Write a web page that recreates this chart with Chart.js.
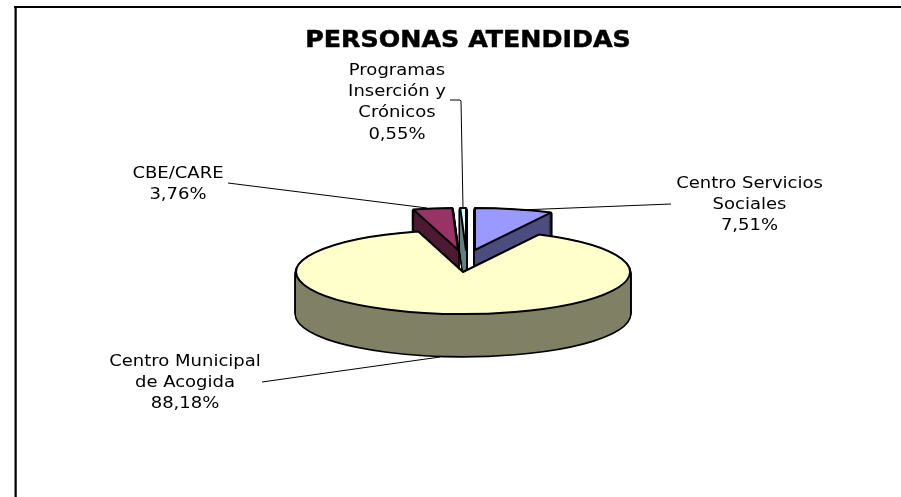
<!DOCTYPE html>
<html>
<head>
<meta charset="utf-8">
<title>Personas atendidas</title>
<script src="https://cdn.jsdelivr.net/npm/chart.js@4/dist/chart.umd.min.js"></script>
<style>
  html, body { margin: 0; padding: 0; background: #fff; overflow: hidden; }
  #wrap { position: relative; width: 901px; height: 497px; }
</style>
</head>
<body>
<div id="wrap"><canvas id="pieChart" width="901" height="497"></canvas></div>
<script>
const categories = [
  ["Centro Servicios", "Sociales"],
  ["Centro Municipal", "de Acogida"],
  ["CBE/CARE"],
  ["Programas", "Inserción y", "Crónicos"]
];
const percentValues = [7.51, 88.18, 3.76, 0.55];
const topColors = ["#9999FF", "#FFFFCC", "#993366", "#CCFFFF"];
const wallColors = ["#4D4D80", "#808066", "#4D1A33", "#668080"];

const chartTitle = "PERSONAS ATENDIDAS";
const fontName = "'DejaVu Sans', Verdana, sans-serif";
// the picture's text is wider than the font, so stretch it a bit
const textStretch = 1.125;

// 3D look: squash the flat pie and push some slices away from the middle
const pieLook = {
  squash: 42 / 167,
  depth: 42,
  shift: [[12, -22], [0, 0], [-5, -22], [3, -22]],
  drawOrder: [0, 2, 3, 1]
};

// where each label goes: centre x, first baseline y, then the leader line
const labelLook = [
  { x: 749.5, y: 188, line: [[671, 204], [520, 210]] },
  { x: 185, y: 366, line: [[262, 382], [440, 357]] },
  { x: 178, y: 178, line: [[228, 183], [427, 208]] },
  { x: 397, y: 75, line: [[450, 100], [460, 100], [461, 101], [463, 208]] }
];

function stretchedText(ctx, text, x, y, stretch, heavy) {
  ctx.save();
  ctx.translate(x, y);
  ctx.scale(stretch, 1);
  ctx.fillText(text, 0, 0);
  if (heavy) {
    ctx.lineWidth = 0.5;
    ctx.strokeText(text, 0, 0);
  }
  ctx.restore();
}

function slicePath(ctx, arc, dx, dy) {
  const p = arc.getProps(["x", "y", "startAngle", "endAngle", "outerRadius"], true);
  ctx.save();
  ctx.translate(p.x + dx, p.y + dy);
  ctx.scale(1, pieLook.squash);
  ctx.beginPath();
  ctx.moveTo(0, 0);
  ctx.arc(0, 0, p.outerRadius, p.startAngle, p.endAngle);
  ctx.closePath();
  ctx.restore();
}

function drawSlice(ctx, arc, i) {
  const dx = pieLook.shift[i][0];
  const dy = pieLook.shift[i][1];
  ctx.lineJoin = "round";
  ctx.strokeStyle = "#000";
  ctx.lineWidth = 3.2;
  for (let d = pieLook.depth; d > 0; d -= 1) {
    slicePath(ctx, arc, dx, dy + d);
    ctx.stroke();
  }
  ctx.fillStyle = wallColors[i];
  for (let d = pieLook.depth; d > 0; d -= 1) {
    slicePath(ctx, arc, dx, dy + d);
    ctx.fill();
  }
  slicePath(ctx, arc, dx, dy);
  ctx.fillStyle = topColors[i];
  ctx.fill();
  ctx.lineWidth = 2;
  ctx.stroke();
}

const pie3d = {
  id: "pie3d",
  beforeDraw(chart) {
    const ctx = chart.ctx;
    ctx.save();
    ctx.fillStyle = "#808080";
    ctx.fillRect(14, 8, 3, 489);
    ctx.fillStyle = "#000";
    ctx.fillRect(14, 6, 887, 2);
    ctx.fillRect(15, 6, 1.5, 491);
    ctx.restore();
  },
  beforeDatasetDraw(chart) {
    const ctx = chart.ctx;
    const arcs = chart.getDatasetMeta(0).data;
    ctx.save();
    pieLook.drawOrder.forEach(i => drawSlice(ctx, arcs[i], i));
    ctx.restore();
    return false;
  },
  afterDraw(chart) {
    const ctx = chart.ctx;
    ctx.save();
    ctx.strokeStyle = "#000";
    ctx.lineWidth = 1;
    labelLook.forEach(l => {
      ctx.beginPath();
      l.line.forEach((pt, n) => n ? ctx.lineTo(pt[0], pt[1]) : ctx.moveTo(pt[0], pt[1]));
      ctx.stroke();
    });
    ctx.fillStyle = "#000";
    ctx.font = "16px " + fontName;
    ctx.textAlign = "center";
    ctx.textBaseline = "alphabetic";
    categories.forEach((lines, i) => {
      const text = lines.concat(percentValues[i].toFixed(2).replace(".", ",") + "%");
      text.forEach((t, n) => stretchedText(ctx, t, labelLook[i].x, labelLook[i].y + n * 21.2, textStretch));
    });
    ctx.font = "bold 22.5px " + fontName;
    stretchedText(ctx, chartTitle, 468, 47, textStretch, true);
    ctx.restore();
  }
};

new Chart(document.getElementById("pieChart"), {
  type: "pie",
  data: {
    labels: categories.map(c => c.join(" ")),
    datasets: [{ data: percentValues, backgroundColor: topColors, borderWidth: 0 }]
  },
  options: {
    responsive: false,
    animation: false,
    layout: { padding: { left: 296, right: 271, top: 105, bottom: 58 } },
    plugins: { legend: { display: false }, tooltip: { enabled: false }, title: { display: false } }
  },
  plugins: [pie3d]
});
</script>
</body>
</html>
